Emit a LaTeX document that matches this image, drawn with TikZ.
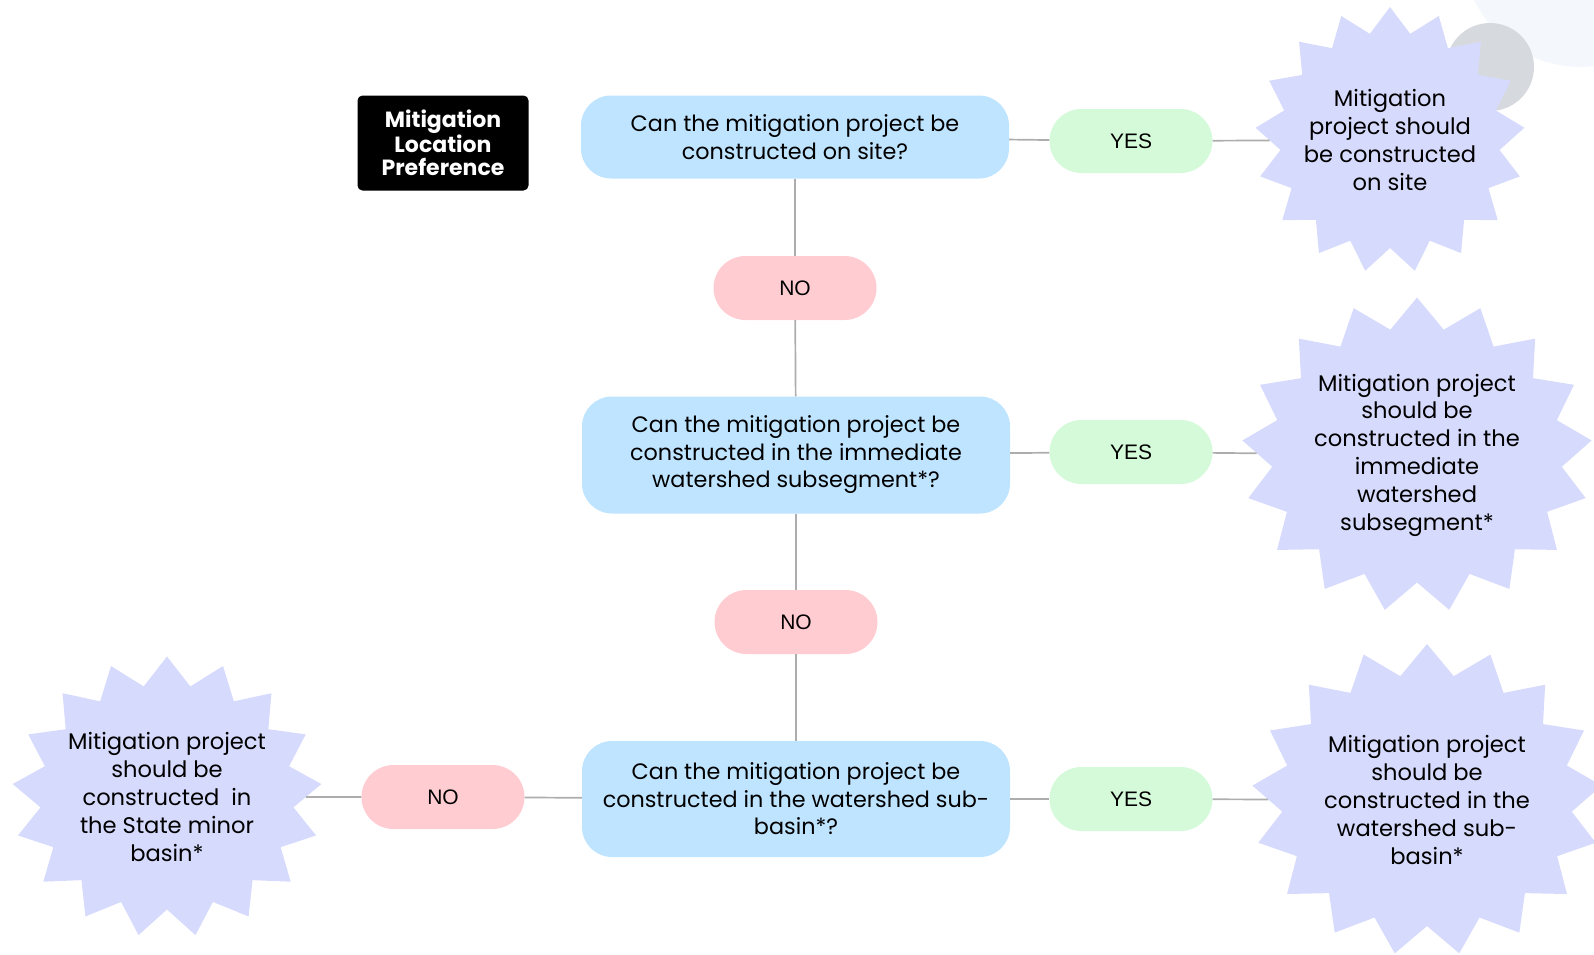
\documentclass[tikz,border=0pt]{standalone}
\usepackage{fontspec}
\setmainfont{Poppins}
\newfontfamily\labelfont{Liberation Sans}
\usetikzlibrary{shapes.symbols}
\definecolor{qblue}{HTML}{BFE4FF}
\definecolor{ygreen}{HTML}{D4FADA}
\definecolor{npink}{HTML}{FFCCD2}
\definecolor{starc}{HTML}{D6DAFC}
\definecolor{linec}{HTML}{ADADAD}
\definecolor{circgray}{HTML}{D6DADE}
\definecolor{circlight}{HTML}{F4F8FD}
\begin{document}
\begin{tikzpicture}[x=1pt,y=-1pt,
  qbox/.style={fill=qblue, rounded corners=30pt, minimum width=428pt, align=center, inner sep=0pt, font=\fontsize{22.3}{27.5}\selectfont},
  pill/.style={rounded corners=32pt, minimum width=163pt, minimum height=64pt, inner sep=0pt, font=\labelfont\fontsize{21}{25}\selectfont},
  yesbox/.style={pill, fill=ygreen},
  nobox/.style={pill, fill=npink},
  titlebox/.style={fill=black, text=white, rounded corners=5pt, minimum width=171pt, minimum height=95pt, inner sep=0pt, align=center, font=\bfseries\fontsize{22}{23.5}\selectfont},
  burst/.style={starburst, random starburst=0, starburst points=17, fill=starc, inner sep=0pt, align=center, font=\fontsize{22.6}{27.8}\selectfont},
  conn/.style={draw=linec, line width=1.7pt}
]
\useasboundingbox (0,0) rectangle (1594,954);
\begin{scope}
\clip (0,0) rectangle (1594,954);
\fill[circlight] (1580,-50) circle (117);
\fill[circgray] (1490,67) circle (44);

\node[burst, inner xsep=-10pt, minimum width=270pt, minimum height=266pt, starburst point height=25pt] (s1) at (1390,140) {Mitigation\\project should\\be constructed\\on site};
\node[burst, minimum width=350pt, minimum height=315pt, starburst point height=30pt] (s2) at (1417,455) {Mitigation project\\should be\\constructed in the\\immediate\\watershed\\subsegment*};
\node[burst, minimum width=350pt, minimum height=312pt, starburst point height=30pt] (s3) at (1427,800) {Mitigation project\\should be\\constructed in the\\watershed sub-\\basin*};
\node[burst, inner xsep=-10pt, minimum width=310pt, minimum height=281pt, starburst point height=28pt] (s4) at (167,797) {Mitigation project\\should be\\constructed~~in\\the State minor\\basin*};

\node[titlebox] (title) at (443,143) {Mitigation\\Location\\Preference};

\node[qbox, minimum height=83pt] (q1) at (795,137) {Can the mitigation project be\\constructed on site?};
\node[qbox, minimum height=117pt] (q2) at (796,455) {Can the mitigation project be\\constructed in the immediate\\watershed subsegment*?};
\node[qbox, minimum height=116pt] (q3) at (796,799) {Can the mitigation project be\\constructed in the watershed sub-\\basin*?};

\node[yesbox] (y1) at (1131,141) {YES};
\node[yesbox] (y2) at (1131,452) {YES};
\node[yesbox] (y3) at (1131,799) {YES};
\node[nobox] (n1) at (795,288) {NO};
\node[nobox] (n2) at (796,622) {NO};
\node[nobox] (n3) at (443,797) {NO};

\draw[conn] (q1) -- (y1);
\draw[conn] (y1) -- (s1);
\draw[conn] (q1) -- (n1);
\draw[conn] (n1) -- (q2);
\draw[conn] (q2) -- (y2);
\draw[conn] (y2) -- (s2);
\draw[conn] (q2) -- (n2);
\draw[conn] (n2) -- (q3);
\draw[conn] (q3) -- (y3);
\draw[conn] (y3) -- (s3);
\draw[conn] (q3) -- (n3);
\draw[conn] (n3) -- (s4);
\end{scope}
\end{tikzpicture}
\end{document}
